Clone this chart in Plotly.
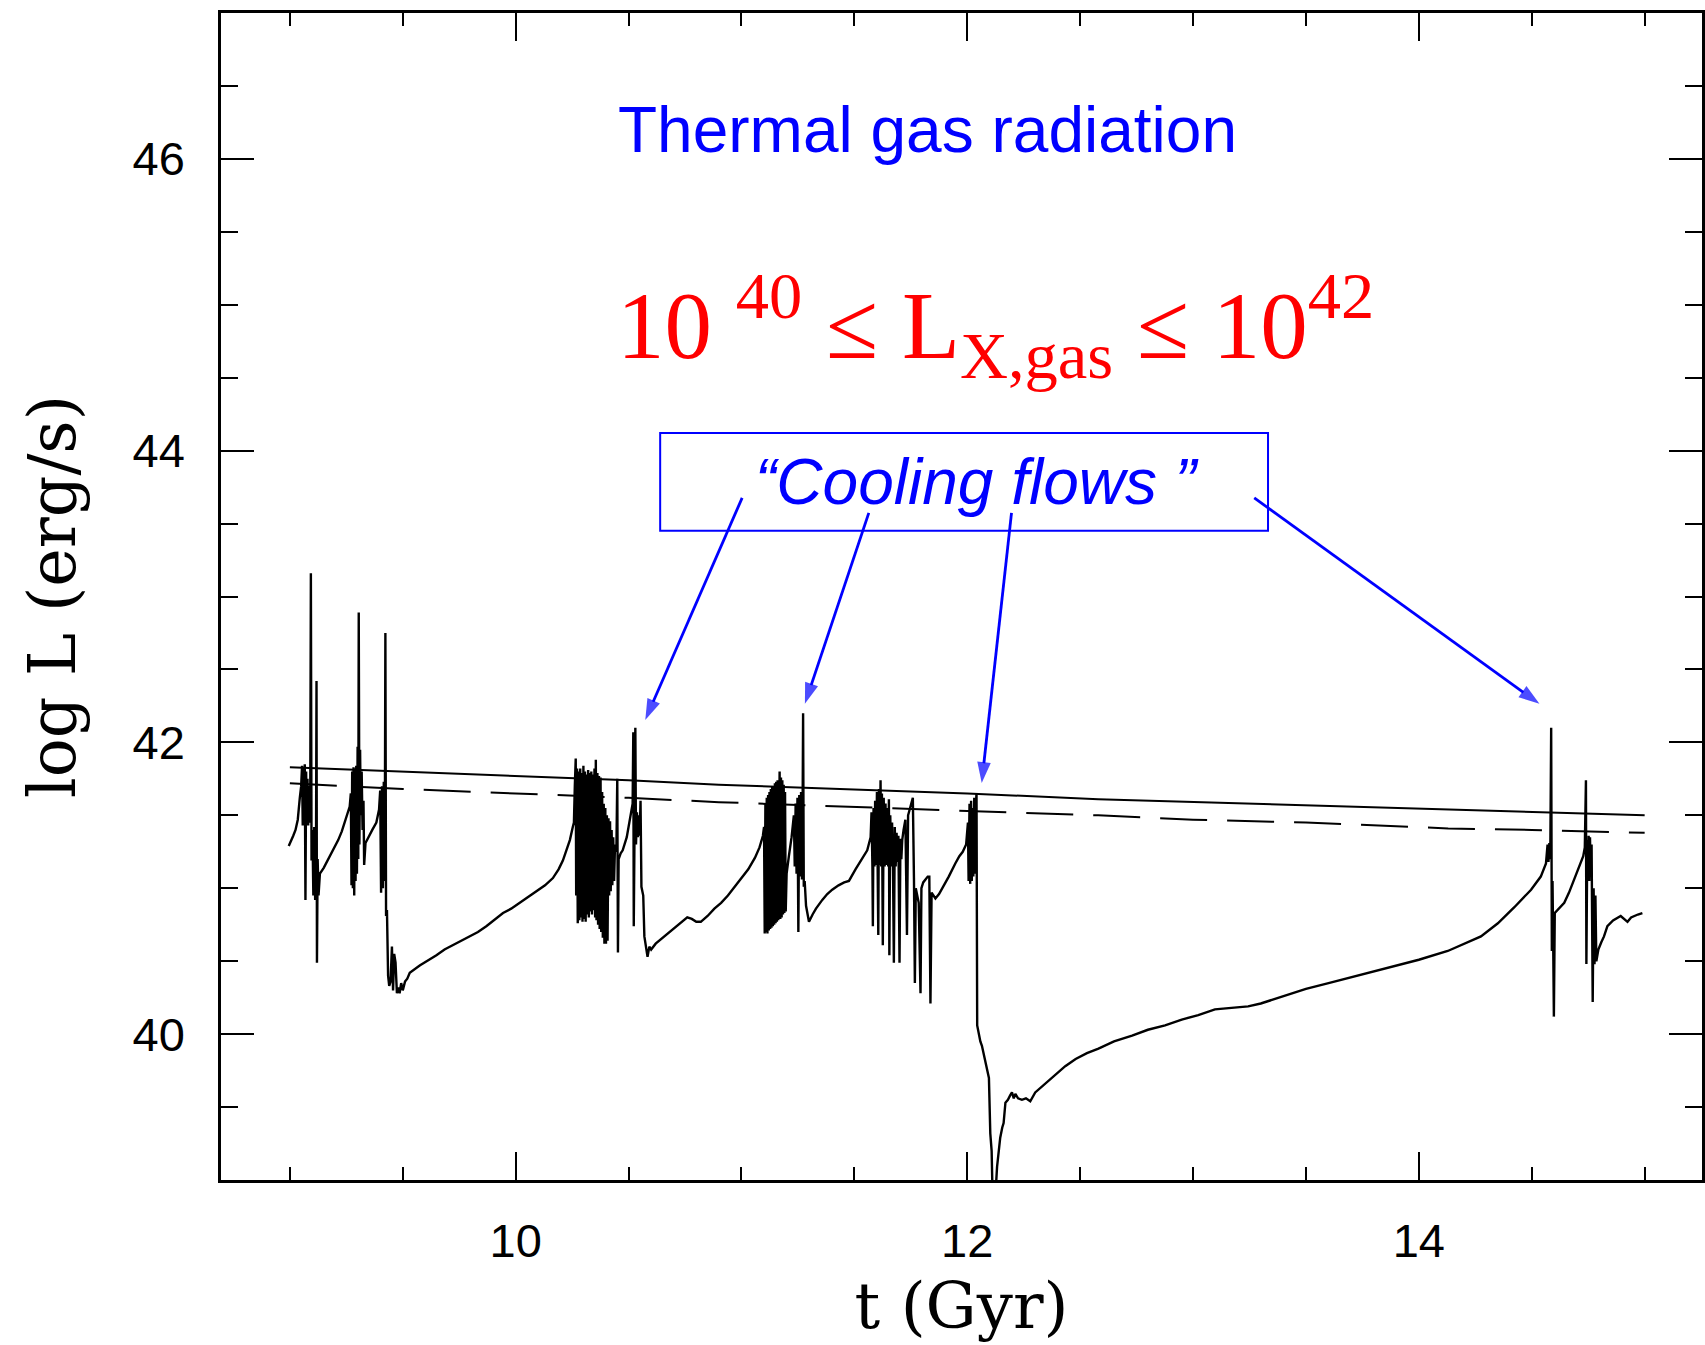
import plotly.graph_objects as go

# ---------------------------------------------------------------------------
# Data: log L of the hot gas (erg/s) against cosmic time t (Gyr)
# ---------------------------------------------------------------------------

# early outbursts, 9.0 - 9.53 Gyr
episode_1 = [
    (8.995, 41.29), (9.005, 41.32), (9.015, 41.36), (9.025, 41.40), (9.035, 41.47),
    (9.044, 41.62), (9.050, 41.70), (9.054, 41.84), (9.057, 41.43), (9.060, 41.83),
    (9.063, 41.45), (9.066, 41.85), (9.069, 40.92), (9.072, 41.80), (9.075, 41.43),
    (9.078, 41.75), (9.081, 41.43), (9.085, 41.70), (9.090, 41.45), (9.093, 43.16),
    (9.096, 41.19), (9.100, 41.40), (9.104, 40.95), (9.108, 41.42), (9.112, 40.92),
    (9.116, 41.40), (9.118, 42.42), (9.120, 40.49), (9.123, 41.20), (9.127, 40.95),
    (9.133, 41.10), (9.150, 41.14), (9.170, 41.20), (9.184, 41.24), (9.200, 41.29),
    (9.214, 41.33), (9.230, 41.39), (9.243, 41.45), (9.255, 41.51), (9.265, 41.56),
    (9.270, 41.65), (9.273, 41.02), (9.276, 41.80), (9.279, 41.00), (9.282, 41.83),
    (9.285, 40.95), (9.288, 41.82), (9.291, 41.05), (9.294, 41.84), (9.297, 41.10),
    (9.300, 41.97), (9.303, 41.20), (9.305, 42.89), (9.308, 41.30), (9.311, 41.95),
    (9.314, 41.50), (9.318, 41.80), (9.322, 41.40), (9.326, 41.60), (9.329, 41.16),
    (9.335, 41.31), (9.350, 41.35), (9.365, 41.40), (9.383, 41.45), (9.395, 41.54),
    (9.400, 41.67), (9.404, 40.97), (9.408, 41.70), (9.412, 41.00), (9.416, 41.73),
    (9.420, 41.05), (9.423, 42.75), (9.426, 40.81), (9.430, 40.85), (9.435, 40.40),
    (9.440, 40.33), (9.446, 40.36), (9.452, 40.60), (9.457, 40.30), (9.462, 40.55),
    (9.468, 40.49), (9.474, 40.28), (9.480, 40.32), (9.486, 40.28), (9.493, 40.35),
    (9.500, 40.30), (9.510, 40.36), (9.520, 40.38), (9.531, 40.42),
]

# slow cooling, 9.53 - 10.25 Gyr
cooling_1 = [
    (9.575, 40.47), (9.620, 40.51), (9.649, 40.54), (9.685, 40.58), (9.722, 40.61),
    (9.760, 40.64), (9.796, 40.67), (9.833, 40.70), (9.870, 40.74), (9.910, 40.79),
    (9.944, 40.83), (9.980, 40.86), (10.017, 40.90), (10.055, 40.94), (10.091, 40.98),
    (10.130, 41.02), (10.165, 41.07), (10.190, 41.13), (10.209, 41.19), (10.225, 41.26),
    (10.240, 41.33), (10.253, 41.42),
]

# burst cluster, 10.26 - 10.60 Gyr
episode_2 = [
    (10.258, 41.45), (10.262, 41.70), (10.266, 41.89), (10.268, 40.95), (10.272, 41.82),
    (10.275, 40.76), (10.279, 41.80), (10.282, 40.78), (10.286, 41.82), (10.289, 40.80),
    (10.293, 41.79), (10.296, 40.77), (10.300, 41.84), (10.303, 40.79), (10.307, 41.80),
    (10.310, 40.77), (10.314, 41.78), (10.317, 40.82), (10.321, 41.81), (10.324, 40.80),
    (10.328, 41.79), (10.331, 40.84), (10.335, 41.80), (10.338, 40.82), (10.342, 41.78),
    (10.345, 40.85), (10.349, 41.82), (10.352, 40.80), (10.355, 41.88), (10.358, 40.78),
    (10.362, 41.79), (10.365, 40.75), (10.369, 41.77), (10.372, 40.72), (10.376, 41.76),
    (10.379, 40.70), (10.383, 41.66), (10.386, 40.66), (10.390, 41.58), (10.393, 40.62),
    (10.397, 41.55), (10.400, 40.62), (10.404, 41.50), (10.407, 40.64), (10.411, 41.48),
    (10.414, 40.95), (10.418, 41.46), (10.421, 40.98), (10.425, 41.40), (10.428, 41.02),
    (10.432, 41.35), (10.436, 41.05), (10.440, 41.30), (10.446, 41.25), (10.450, 41.75),
    (10.453, 40.56), (10.456, 41.20), (10.465, 41.24), (10.474, 41.26), (10.492, 41.35),
    (10.508, 41.50), (10.518, 41.58), (10.521, 42.07), (10.523, 40.74), (10.527, 41.50),
    (10.530, 42.10), (10.533, 41.30), (10.537, 41.52), (10.541, 41.35), (10.545, 41.50),
    (10.549, 41.36), (10.553, 41.60), (10.557, 41.01), (10.565, 40.95), (10.570, 40.67),
    (10.578, 40.60), (10.584, 40.53), (10.592, 40.60), (10.600, 40.58),
]

# slow cooling, 10.60 - 11.10 Gyr
cooling_2 = [
    (10.620, 40.62), (10.650, 40.66), (10.680, 40.70), (10.710, 40.74), (10.740, 40.78),
    (10.760, 40.80), (10.780, 40.79), (10.800, 40.77), (10.820, 40.77), (10.850, 40.81),
    (10.880, 40.86), (10.910, 40.90), (10.940, 40.95), (10.970, 41.01), (11.000, 41.07),
    (11.030, 41.13), (11.060, 41.21), (11.080, 41.28), (11.095, 41.36),
]

# burst cluster, 11.10 - 11.30 Gyr
episode_3 = [
    (11.100, 41.42), (11.103, 40.69), (11.106, 41.58), (11.109, 40.70), (11.112, 41.62),
    (11.115, 40.69), (11.118, 41.64), (11.121, 40.71), (11.124, 41.66), (11.127, 40.72),
    (11.130, 41.68), (11.133, 40.73), (11.136, 41.70), (11.139, 40.74), (11.142, 41.70),
    (11.145, 40.75), (11.148, 41.72), (11.151, 40.76), (11.154, 41.73), (11.157, 40.77),
    (11.160, 41.74), (11.163, 40.78), (11.166, 41.75), (11.169, 41.80), (11.172, 40.79),
    (11.175, 41.76), (11.178, 40.80), (11.181, 41.74), (11.184, 40.82), (11.187, 41.71),
    (11.190, 40.83), (11.193, 41.66), (11.196, 40.84), (11.200, 41.10), (11.210, 41.22),
    (11.222, 41.35), (11.232, 41.50), (11.236, 41.15), (11.240, 41.58), (11.244, 41.10),
    (11.248, 41.62), (11.252, 40.70), (11.256, 41.64), (11.260, 41.08), (11.264, 41.66),
    (11.268, 41.06), (11.271, 41.60), (11.273, 42.20), (11.276, 41.01), (11.280, 41.05),
    (11.286, 40.88), (11.292, 40.83), (11.299, 40.77),
]

# slow cooling, 11.30 - 11.57 Gyr
cooling_3 = [
    (11.315, 40.82), (11.330, 40.86), (11.358, 40.92), (11.380, 40.96), (11.402, 40.99),
    (11.430, 41.02), (11.455, 41.04), (11.476, 41.05), (11.505, 41.13), (11.535, 41.20),
    (11.557, 41.26), (11.572, 41.35),
]

# burst cluster, 11.57 - 12.04 Gyr
episode_4 = [
    (11.576, 41.52), (11.580, 41.15), (11.582, 40.74), (11.585, 41.55), (11.589, 41.15),
    (11.592, 41.60), (11.596, 41.16), (11.600, 41.66), (11.604, 41.15), (11.606, 40.68),
    (11.609, 41.68), (11.612, 41.16), (11.616, 41.74), (11.619, 41.15), (11.622, 41.65),
    (11.626, 40.61), (11.630, 41.62), (11.634, 41.15), (11.638, 41.58), (11.642, 41.16),
    (11.646, 41.55), (11.650, 41.15), (11.653, 41.61), (11.655, 40.54), (11.659, 41.50),
    (11.663, 41.15), (11.667, 41.45), (11.671, 41.16), (11.675, 40.49), (11.679, 41.42),
    (11.683, 41.15), (11.687, 41.38), (11.691, 41.18), (11.695, 41.36), (11.700, 40.49),
    (11.704, 41.34), (11.708, 41.20), (11.712, 41.33), (11.718, 41.40), (11.726, 41.47),
    (11.733, 40.68), (11.738, 41.50), (11.745, 41.54), (11.752, 41.58), (11.759, 41.62),
    (11.764, 41.06), (11.768, 40.35), (11.772, 41.00), (11.778, 40.94), (11.785, 40.90),
    (11.793, 40.28), (11.797, 41.00), (11.805, 41.04), (11.815, 41.06), (11.825, 41.08),
    (11.832, 41.08), (11.837, 40.21), (11.842, 40.97), (11.850, 40.95), (11.859, 40.93),
    (11.875, 40.96), (11.890, 41.00), (11.918, 41.08), (11.947, 41.17), (11.965, 41.22),
    (11.980, 41.25), (11.995, 41.30), (12.003, 41.45), (12.006, 41.05), (12.010, 41.58),
    (12.013, 41.03), (12.017, 41.60), (12.020, 41.05), (12.024, 41.55), (12.027, 41.08),
    (12.031, 41.62), (12.034, 41.10), (12.038, 41.57), (12.041, 41.65), (12.044, 40.06),
]

# deep quench and long recovery, 12.05 - 14.56 Gyr
cooling_4 = [
    (12.050, 40.01), (12.058, 39.95), (12.065, 39.92), (12.075, 39.85), (12.088, 39.74),
    (12.096, 39.70), (12.102, 39.32), (12.108, 39.20), (12.112, 38.90), (12.125, 38.90),
    (12.132, 39.09), (12.140, 39.20), (12.146, 39.29), (12.155, 39.36), (12.161, 39.39),
    (12.169, 39.53), (12.180, 39.55), (12.190, 39.58), (12.198, 39.60), (12.206, 39.56),
    (12.213, 39.59), (12.225, 39.56), (12.242, 39.55), (12.260, 39.56), (12.279, 39.54),
    (12.301, 39.60), (12.330, 39.64), (12.360, 39.68), (12.400, 39.73), (12.434, 39.78),
    (12.480, 39.83), (12.530, 39.87), (12.581, 39.90), (12.650, 39.95), (12.730, 39.99),
    (12.800, 40.03), (12.876, 40.06), (12.950, 40.10), (13.023, 40.13), (13.097, 40.17),
    (13.170, 40.18), (13.244, 40.19), (13.300, 40.21), (13.400, 40.26), (13.500, 40.31),
    (13.600, 40.35), (13.750, 40.41), (13.900, 40.47), (14.000, 40.51), (14.128, 40.57),
    (14.200, 40.62), (14.275, 40.67), (14.350, 40.76), (14.423, 40.87), (14.497, 40.99),
    (14.540, 41.08), (14.563, 41.17),
]

# late outbursts, 14.57 - 15.0 Gyr
episode_5 = [
    (14.570, 41.30), (14.574, 41.18), (14.578, 41.31), (14.582, 41.20), (14.586, 42.10),
    (14.589, 40.57), (14.592, 41.05), (14.595, 40.62), (14.598, 40.12), (14.602, 40.83),
    (14.620, 40.86), (14.644, 40.90), (14.665, 40.97), (14.688, 41.06), (14.705, 41.12),
    (14.717, 41.17), (14.728, 41.22), (14.735, 41.28), (14.740, 41.74), (14.742, 40.48),
    (14.746, 41.33), (14.749, 41.06), (14.752, 41.36), (14.755, 41.05), (14.758, 41.35),
    (14.761, 41.08), (14.765, 41.30), (14.770, 40.22), (14.774, 41.00), (14.778, 40.48),
    (14.782, 40.95), (14.786, 40.50), (14.795, 40.58), (14.808, 40.63), (14.820, 40.67),
    (14.835, 40.74), (14.860, 40.78), (14.894, 40.81), (14.910, 40.79), (14.924, 40.77),
    (14.940, 40.80), (14.953, 40.81), (14.970, 40.82), (14.990, 40.83),
]

# reference luminosities (solid and dashed curves)
t_ref = [9.0, 9.5, 10.0, 10.5, 10.9, 11.5, 12.0, 12.58, 13.0, 13.5, 14.13, 14.5, 15.0]
log_l_ref_solid = [41.83, 41.80, 41.77, 41.74, 41.71, 41.68, 41.65, 41.61, 41.59, 41.57, 41.54, 41.52, 41.50]
log_l_ref_dashed = [41.72, 41.68, 41.65, 41.62, 41.59, 41.56, 41.53, 41.50, 41.47, 41.45, 41.41, 41.40, 41.38]

x_tick_values = [10, 12, 14]
y_tick_values = [40, 42, 44, 46]

# ---------------------------------------------------------------------------
gas_curve = episode_1 + cooling_1 + episode_2 + cooling_2 + episode_3 + cooling_3 + episode_4 + cooling_4 + episode_5
t_gas = [p[0] for p in gas_curve]
log_l_gas = [p[1] for p in gas_curve]

BLUE = "#0000ff"
RED = "#ff0000"

fig = go.Figure()
fig.add_trace(go.Scatter(x=t_ref, y=log_l_ref_solid, mode="lines",
                         line=dict(color="black", width=2), hoverinfo="skip"))
fig.add_trace(go.Scatter(x=t_ref, y=log_l_ref_dashed, mode="lines",
                         line=dict(color="black", width=2, dash="47px,20px"), hoverinfo="skip"))
fig.add_trace(go.Scatter(x=t_gas, y=log_l_gas, mode="lines",
                         line=dict(color="black", width=2.4), hoverinfo="skip"))

# pointers from the "Cooling flows" box down to the peaks: (tail_t, tail_L, head_t, head_L)
pointers = [
    (11.003, 43.676, 10.574, 42.154),
    (11.564, 43.573, 11.281, 42.264),
    (12.196, 43.573, 12.064, 41.722),
    (13.271, 43.676, 14.534, 42.264),
]
for tx, ty, hx, hy in pointers:
    fig.add_trace(go.Scatter(
        x=[tx, hx], y=[ty, hy], mode="lines+markers",
        line=dict(color=BLUE, width=2.8),
        marker=dict(symbol="arrow", size=[0, 22], angleref="previous", color=BLUE,
                    line=dict(width=0)),
        hoverinfo="skip",
    ))

axis_common = dict(
    showline=True, linewidth=2.5, linecolor="black", mirror="allticks",
    ticks="inside", tickwidth=2, tickcolor="black",
    showgrid=False, zeroline=False,
    tickfont=dict(family="Liberation Sans", size=47, color="black"),
)

fig.update_xaxes(
    range=[8.695, 15.254], tickvals=x_tick_values, ticklen=28,
    minor=dict(dtick=0.5, tick0=0, ticks="inside", ticklen=13, tickwidth=2,
               tickcolor="black", showgrid=False),
    ticklabelstandoff=18,
    title=dict(text="t (Gyr)", font=dict(family="DejaVu Serif", size=64, color="black"),
               standoff=18),
    **axis_common,
)
fig.update_yaxes(
    range=[39, 47], tickvals=y_tick_values, ticklen=33,
    minor=dict(dtick=0.5, tick0=0, ticks="inside", ticklen=17, tickwidth=2,
               tickcolor="black", showgrid=False),
    ticklabelstandoff=24,
    title=dict(text="log L (erg/s)", font=dict(family="DejaVu Serif", size=65, color="black"),
               standoff=36),
    **axis_common,
)

annotations = [
    dict(x=10.446, y=46.198, xref="x", yref="y", text="Thermal gas radiation",
         showarrow=False, xanchor="left", yanchor="middle",
         font=dict(family="Liberation Sans", size=64, color=BLUE)),
    dict(x=12.125, y=44.86, xref="x", yref="y",
         text="10 <sup>40</sup> ≤ L<sub>X,gas</sub> ≤ 10<sup>42</sup>",
         showarrow=False, xanchor="center", yanchor="middle",
         font=dict(family="Liberation Serif", size=95, color=RED)),
    dict(x=12.042, y=43.782, xref="x", yref="y", text="<i>“Cooling flows ”</i>",
         showarrow=False, xanchor="center", yanchor="middle",
         font=dict(family="Liberation Sans", size=64, color=BLUE)),
]

fig.update_layout(
    width=1705, height=1345,
    margin=dict(l=221, r=0, t=13, b=165),
    paper_bgcolor="white", plot_bgcolor="white",
    showlegend=False,
    annotations=annotations,
    shapes=[dict(type="rect", xref="x", yref="y", x0=10.640, x1=13.332, y0=43.450, y1=44.121,
                 line=dict(color=BLUE, width=2), layer="above")],
)

fig.write_html("out.html", config={"displayModeBar": False})
